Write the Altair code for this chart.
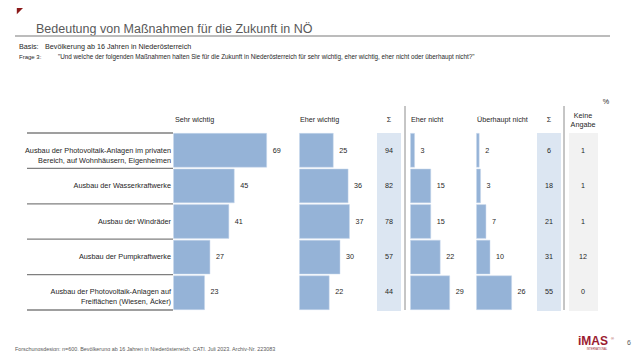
import altair as alt

FONT = "Liberation Sans"

# ---------------- data ----------------
items = [
    "PV privat",
    "Wasserkraftwerke",
    "Windräder",
    "Pumpkraftwerke",
    "PV Freiflächen",
]
label_lines = [
    ["Ausbau der Photovoltaik-Anlagen im privaten", "Bereich, auf Wohnhäusern, Eigenheimen"],
    ["Ausbau der Wasserkraftwerke"],
    ["Ausbau der Windräder"],
    ["Ausbau der Pumpkraftwerke"],
    ["Ausbau der Photovoltaik-Anlagen auf", "Freiflächen (Wiesen, Äcker)"],
]
sehr_wichtig = [69, 45, 41, 27, 23]
eher_wichtig = [25, 36, 37, 30, 22]
sum_wichtig = [94, 82, 78, 57, 44]
eher_nicht = [3, 15, 15, 22, 29]
ueberhaupt_nicht = [2, 3, 7, 10, 26]
sum_nicht = [6, 18, 21, 31, 55]
keine_angabe = [1, 1, 1, 12, 0]

rows = [
    dict(item=items[i], lines=label_lines[i], sw=sehr_wichtig[i], ew=eher_wichtig[i],
         s1=sum_wichtig[i], en=eher_nicht[i], un=ueberhaupt_nicht[i], s2=sum_nicht[i],
         ka=keine_angabe[i])
    for i in range(len(items))
]
data = alt.Data(values=rows)
one = alt.Data(values=[{"a": 0}])

# page coords -> chart coords (page has 8px margin)
def X(p):
    return p - 8

def Y(p):
    return p - 8

TOP, BOT = 133, 310
BAR = "#95B3D7"
TXT = "#262626"
FS = 7.2

yband = alt.Y("item:N", scale=alt.Scale(domain=items, range=[Y(TOP), Y(BOT)],
                                        paddingInner=0.05, paddingOuter=0.01), axis=None)

def panel(field, x0):
    xs = alt.X(f"{field}:Q", scale=alt.Scale(domain=[0, 100], range=[X(x0), X(x0) + 135]), axis=None)
    bars = alt.Chart(data).mark_bar(color=BAR, stroke="#c9d8ec", strokeWidth=0.5).encode(x=xs, y=yband)
    labels = alt.Chart(data).mark_text(align="left", baseline="middle", dx=6, fontSize=FS,
                                       font=FONT, color=TXT).encode(x=xs, y=yband, text=f"{field}:Q")
    return [bars, labels]

def col_values(field, xc):
    return alt.Chart(data).mark_text(align="center", baseline="middle", fontSize=FS,
                                     font=FONT, color=TXT).encode(
        x=alt.value(X(xc)), y=yband, text=f"{field}:Q")

def txt(s, x, y, size=FS, align="left", color=TXT, weight="normal", baseline="middle"):
    return alt.Chart(one).mark_text(text=s, align=align, baseline=baseline, fontSize=size,
                                    color=color, fontWeight=weight, font=FONT).encode(
        x=alt.value(X(x)), y=alt.value(Y(y)))

def rect(x1, x2, y1, y2, color):
    return alt.Chart(one).mark_rect(color=color).encode(
        x=alt.value(X(x1)), x2=alt.value(X(x2)), y=alt.value(Y(y1)), y2=alt.value(Y(y2)))

def rule(x1, x2, y1, y2, color="#7f7f7f", w=1):
    return alt.Chart(one).mark_rule(color=color, strokeWidth=w).encode(
        x=alt.value(X(x1)), x2=alt.value(X(x2)), y=alt.value(Y(y1)), y2=alt.value(Y(y2)))

layers = []

# column backgrounds
layers += [rect(377, 401, TOP, 311, "#DCE6F2"),
           rect(537, 561, TOP, 311, "#DCE6F2"),
           rect(569, 598, TOP, 311, "#F2F2F2")]

# row separators
sep = alt.Chart(alt.Data(values=[{"k": i} for i in range(6)])).mark_rule(
    color="#7f7f7f", strokeWidth=1.3).encode(
    x=alt.value(X(27)), x2=alt.value(X(173)),
    y=alt.Y("k:Q", scale=alt.Scale(domain=[0, 5], range=[Y(TOP), Y(BOT)]), axis=None))
layers.append(sep)

# vertical separators
layers += [rule(405, 405, 106, 310, "#8c8c8c", 1), rule(564, 564, 106, 310, "#8c8c8c", 1)]

# bars
layers += panel("sw", 173.5)
layers += panel("ew", 299.5)
layers += panel("en", 410.5)
layers += panel("un", 476.5)

# sum / keine angabe columns
layers += [col_values("s1", 389), col_values("s2", 549), col_values("ka", 583)]

# row labels
layers.append(alt.Chart(data).mark_text(align="right", baseline="middle", fontSize=7.3,
                                        font=FONT, color=TXT, lineHeight=10).encode(
    x=alt.value(X(171)), y=yband, text="lines:N"))

# column headers
layers += [
    txt("Sehr wichtig", 175, 120),
    txt("Eher wichtig", 300, 120),
    txt("Σ", 389, 120, align="center"),
    txt("Eher nicht", 411, 120),
    txt("Überhaupt nicht", 477, 120),
    txt("Σ", 549, 120, align="center"),
    txt(["Keine", "Angabe"], 583, 116, align="center"),
    txt("%", 606, 102, align="center"),
]

# header area
tri = alt.Chart(one).mark_point(shape="M-1,-1L1,-1L-1,1Z", filled=True, color="#8B1A1A",
                                size=40, opacity=1).encode(x=alt.value(X(20)), y=alt.value(Y(11)))
layers += [
    tri,
    txt("Bedeutung von Maßnahmen für die Zukunft in NÖ", 36, 33, size=12.5, color="#595959",
        baseline="alphabetic"),
    rule(15, 610, 36, 36, "#a6a6a6", 1.5),
    txt("Basis:", 19, 47, size=7.2),
    txt("Bevölkerung ab 16 Jahren in Niederösterreich", 45, 47, size=7.2),
    txt("Frage 3:", 19, 57, size=6),
    txt("\"Und welche der folgenden Maßnahmen halten Sie für die Zukunft in Niederösterreich "
        "für sehr wichtig, eher wichtig, eher nicht oder überhaupt nicht?\"", 58, 57, size=6.3),
    txt("Forschungsdesign: n=600, Bevölkerung ab 16 Jahren in Niederösterreich, CATI, Juli 2023, "
        "Archiv-Nr. 223083", 15, 348.5, size=5.4, color="#595959"),
    txt("iMAS", 578, 345, size=12, color="#9B1B30", weight="bold", baseline="alphabetic"),
    txt("®", 611, 338.5, size=4, color="#9B1B30"),
    txt("INTERNATIONAL", 597, 349.6, size=2.6, color="#9B1B30", align="center"),
    txt("6", 631, 343, size=7, color="#595959", align="right"),
]

chart = alt.layer(*layers).resolve_scale(x="independent", y="independent").properties(
    width=624, height=343, autosize="none", padding=0, background="white"
).configure_view(stroke=None)

chart.save("out.html", embed_options={"renderer": "svg", "actions": False})
